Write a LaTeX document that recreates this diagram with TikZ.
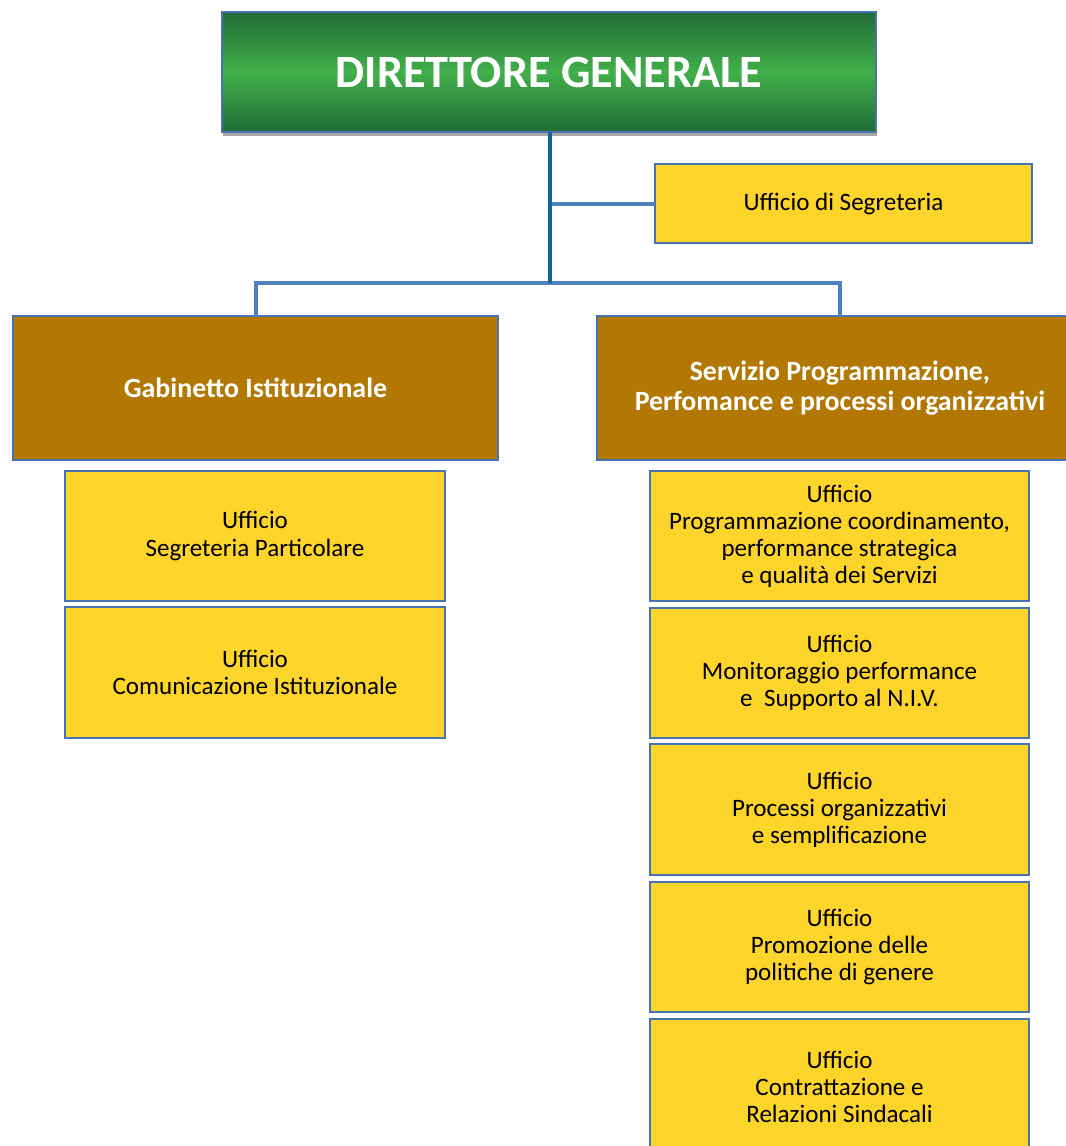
\documentclass[tikz,border=0pt]{standalone}
\usepackage{fontspec}
\setmainfont{Carlito}
\definecolor{ybox}{HTML}{FDD42A}
\definecolor{bbox}{HTML}{B37804}
\definecolor{edge}{HTML}{4A72B0}
\definecolor{gdark}{HTML}{1F6B37}
\definecolor{glight}{HTML}{42B04A}
\definecolor{trunkc}{HTML}{16609A}
\definecolor{busc}{HTML}{4F81BD}
\begin{document}
\begin{tikzpicture}[x=0.75pt,y=-0.75pt,
  base/.style={draw=edge,line width=1.3pt,inner sep=0pt,outer sep=0pt,align=center},
  ufficio/.style={base,fill=ybox,font=\fontsize{18.8}{20.3}\selectfont},
  servizio/.style={base,fill=bbox,text=white,font=\fontsize{20.9}{22.5}\selectfont\bfseries},
  trunk/.style={draw=trunkc,line width=2.6pt},
  bus/.style={draw=busc,line width=3pt}]
\useasboundingbox (0,0) rectangle (1066,1146);
\begin{scope}
\clip (0,0) rectangle (1066,1146);
% shadow of the top box
\fill[gray!70] (223,16) rectangle (877,136);
\node[base,draw=edge,line width=0.8pt,top color=gdark,bottom color=gdark,middle color=glight,
  minimum width=654*0.75pt,minimum height=120*0.75pt,text=white,
  font=\fontsize{34.7}{40}\selectfont\bfseries] (dg) at (549,72) {\raisebox{-2.4pt}{DIRETTORE GENERALE}};
\node[ufficio,minimum width=377*0.75pt,minimum height=79*0.75pt] (seg) at (843.5,203.5) {Ufficio di Segreteria};
\node[servizio,minimum width=485*0.75pt,minimum height=144*0.75pt] (gab) at (255.5,388) {Gabinetto Istituzionale};
\node[servizio,minimum width=486*0.75pt,minimum height=144*0.75pt] (serv) at (840,388) {Servizio Programmazione,\\ Perfomance e processi organizzativi};
% left offices
\node[ufficio,minimum width=380*0.75pt,minimum height=130*0.75pt] (l1) at (255,536) {Ufficio\\Segreteria Particolare};
\node[ufficio,minimum width=380*0.75pt,minimum height=131*0.75pt] (l2) at (255,672.5) {Ufficio\\Comunicazione Istituzionale};
% right offices
\node[ufficio,minimum width=379*0.75pt,minimum height=130*0.75pt] (r1) at (839.5,536) {Ufficio\\Programmazione coordinamento,\\performance strategica\\ e qualità dei Servizi};
\node[ufficio,minimum width=379*0.75pt,minimum height=130*0.75pt] (r2) at (839.5,673) {Ufficio\\Monitoraggio performance\\e\ \ Supporto al N.I.V.};
\node[ufficio,minimum width=379*0.75pt,minimum height=131*0.75pt] (r3) at (839.5,809.5) {Ufficio\\Processi organizzativi\\e semplificazione};
\node[ufficio,minimum width=379*0.75pt,minimum height=130*0.75pt] (r4) at (839.5,947) {Ufficio\\Promozione delle\\politiche di genere};
\node[ufficio,minimum width=379*0.75pt,minimum height=136*0.75pt] (r5) at (839.5,1087) {Ufficio\\Contrattazione e\\Relazioni Sindacali};
% connectors
\coordinate (j) at (550,283);
\coordinate (js) at (550,204);
\draw[bus] (js) -- (js -| seg.west);
\draw[bus] (gab.north) |- (j) -| (serv.north);
\draw[trunk] (dg.south -| j) -- (j);
\end{scope}
\end{tikzpicture}
\end{document}
